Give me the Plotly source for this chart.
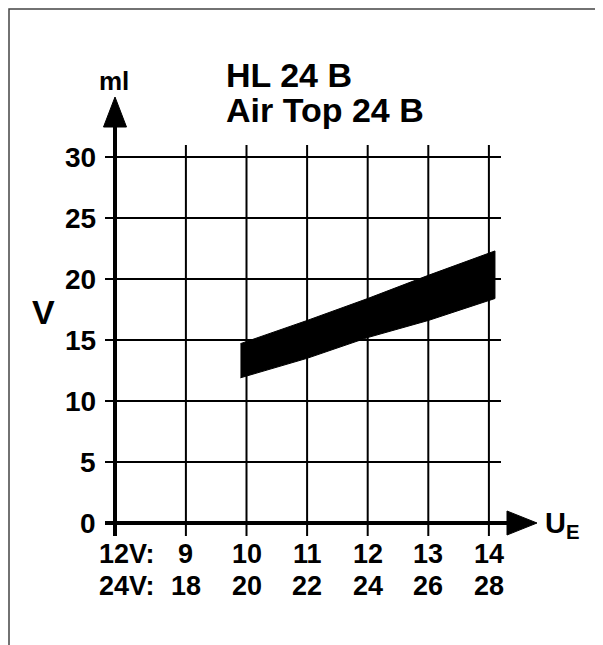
import plotly.graph_objects as go

# ---- data ----
y_ticks = [0, 5, 10, 15, 20, 25, 30]
x_grid_12v = [9, 10, 11, 12, 13, 14]
labels_12v = ["9", "10", "11", "12", "13", "14"]
labels_24v = ["18", "20", "22", "24", "26", "28"]
band_x = [9.9, 11, 12, 13, 14.1]
band_upper = [14.7, 16.6, 18.4, 20.3, 22.3]
band_lower = [11.9, 13.5, 15.2, 16.6, 18.4]
title_lines = ["HL 24 B", "Air Top 24 B"]

# ---- layout geometry (screen pixels; page body adds an 8px offset) ----
VW, VH = 603, 645
OFF = 8
W, H = VW - OFF, VH - OFF
X0, PXX = 7.83, 60.6      # x value at the y-axis, px per x unit
PXY = 12.2                # px per y unit
AX, AY = 115, 523         # axis origin on screen

def X(px):
    return X0 + (px - AX) / PXX
def Y(py):
    return (AY - py) / PXY
def dx(px):
    return px / PXX
def dy(px):
    return px / PXY

xr = [X(OFF), X(VW)]
yr = [Y(VH), Y(OFF)]

FONT = "Liberation Sans, Arial, Helvetica, sans-serif"
BLK = "#000000"

fig = go.Figure()

# vertical grid lines
gx, gy = [], []
for v in x_grid_12v:
    gx += [v, v, None]
    gy += [Y(536), Y(145), None]
fig.add_trace(go.Scatter(x=gx, y=gy, mode="lines", line=dict(color=BLK, width=2), hoverinfo="skip"))
# horizontal grid lines
hx, hy = [], []
for v in y_ticks[1:]:
    hx += [X(105), X(501), None]
    hy += [v, v, None]
fig.add_trace(go.Scatter(x=hx, y=hy, mode="lines", line=dict(color=BLK, width=2), hoverinfo="skip"))

# band
fig.add_trace(go.Scatter(x=band_x + band_x[::-1], y=band_upper + band_lower[::-1],
                         fill="toself", fillcolor=BLK, mode="lines",
                         line=dict(color=BLK, width=1), hoverinfo="skip"))

# y axis with arrow
y_base, y_tip = Y(127), Y(97)
fig.add_trace(go.Scatter(x=[X0, X0], y=[Y(536), y_base], mode="lines",
                         line=dict(color=BLK, width=4), hoverinfo="skip"))
fig.add_trace(go.Scatter(x=[X0 - dx(11.5), X0, X0 + dx(11.5), X0 - dx(11.5)],
                         y=[y_base, y_tip, y_base, y_base], fill="toself", fillcolor=BLK,
                         mode="lines", line=dict(color=BLK, width=1), hoverinfo="skip"))
# x axis with arrow
x_base, x_tip = X(507), X(537)
fig.add_trace(go.Scatter(x=[X(105), x_base], y=[0, 0], mode="lines",
                         line=dict(color=BLK, width=4), hoverinfo="skip"))
fig.add_trace(go.Scatter(x=[x_base, x_tip, x_base, x_base],
                         y=[dy(12), 0, -dy(12), dy(12)], fill="toself", fillcolor=BLK,
                         mode="lines", line=dict(color=BLK, width=1), hoverinfo="skip"))

ann = []
def txt(x, y, s, size, xanchor="center", yanchor="middle"):
    ann.append(dict(x=x, y=y, text=s, showarrow=False, xanchor=xanchor, yanchor=yanchor,
                    font=dict(family=FONT, size=size, color=BLK, weight="bold")))

# y tick labels
for v in y_ticks:
    txt(X(98), v, str(v), 28, xanchor="right")
# x tick labels (two scales)
row1, row2 = Y(554), Y(586)
txt(X(97), row1, "12V:", 27, xanchor="left")
txt(X(97), row2, "24V:", 27, xanchor="left")
for v, a, b in zip(x_grid_12v, labels_12v, labels_24v):
    txt(v, row1, a, 27)
    txt(v, row2, b, 27)

# axis titles
txt(X(114), Y(81), "ml", 26)
txt(X(43.5), Y(312), "V", 34)
txt(X(543), Y(525), "U<sub>E</sub>", 29, xanchor="left")

# title
txt(X(224), Y(74.5), title_lines[0], 34, xanchor="left")
txt(X(224), Y(109.5), title_lines[1], 34, xanchor="left")

fig.update_layout(
    width=W, height=H,
    margin=dict(l=0, r=0, t=0, b=0),
    paper_bgcolor="white", plot_bgcolor="white",
    showlegend=False,
    xaxis=dict(range=xr, visible=False, fixedrange=True),
    yaxis=dict(range=yr, visible=False, fixedrange=True),
    annotations=ann,
    shapes=[dict(type="path", xref="paper", yref="paper",
                 path=f"M {1/W} 0 L {1/W} {1-1/H} L {(597-OFF)/W} {1-1/H} L {(597-OFF)/W} 0",
                 line=dict(color="#444444", width=1.5))],
    hovermode=False,
)

fig.write_html("out.html")
